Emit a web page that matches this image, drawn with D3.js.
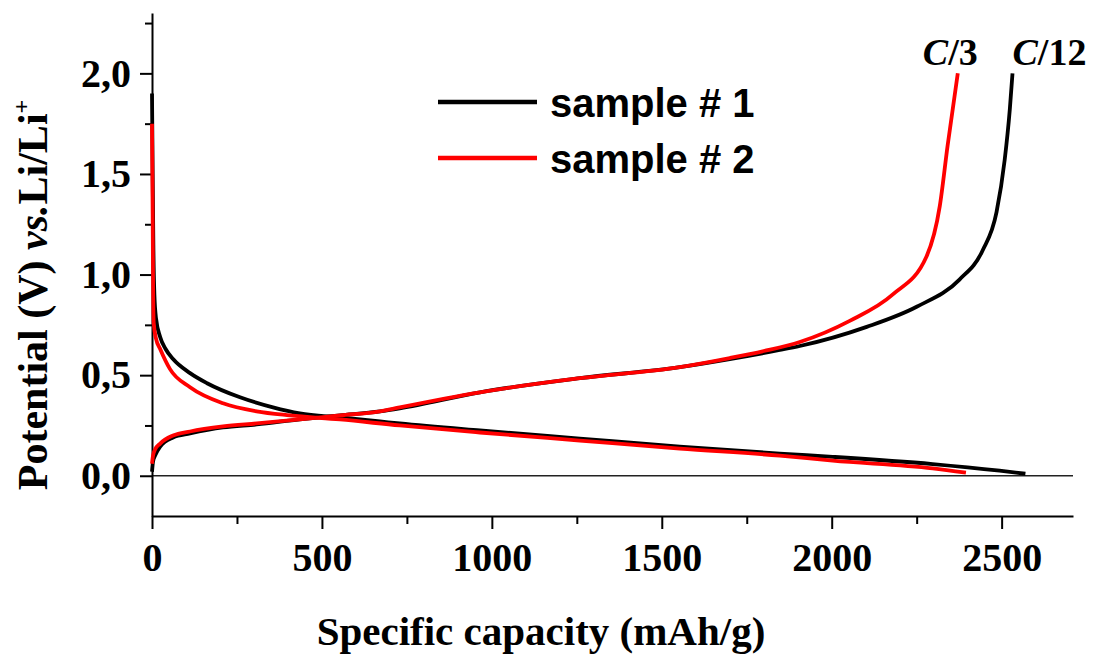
<!DOCTYPE html>
<html>
<head>
<meta charset="utf-8">
<script src="https://cdn.jsdelivr.net/npm/d3@7"></script>
<style>
  body { margin: 0; background: #fff; }
  svg { display: block; }
  .serif { font-family: "Liberation Serif", "Times New Roman", serif; font-weight: bold; }
</style>
</head>
<body>
<div id="chart"></div>
<script>
// Galvanostatic curves: [capacity mAh/g, potential V]
const sample1Discharge = [[0,1.90],[2,1.5],[4,1.15],[7,0.9],[12,0.78],[24,0.69],[40,0.63],[62,0.58],[112,0.51],[162,0.46],[259,0.39],[356,0.34],[435,0.31],[553,0.29],[671,0.27],[729,0.26],[965,0.225],[1259,0.185],[1553,0.145],[1847,0.11],[2003,0.094],[2297,0.058],[2494,0.025],[2570,0.01]];
const sample1Charge = [[0,0.02],[3,0.07],[9,0.10],[24,0.145],[62,0.19],[112,0.21],[209,0.24],[308,0.255],[435,0.28],[553,0.30],[671,0.32],[729,0.335],[965,0.415],[1259,0.485],[1553,0.54],[1700,0.58],[1847,0.625],[1906,0.645],[2103,0.74],[2250,0.84],[2376,0.975],[2444,1.12],[2485,1.31],[2509,1.57],[2524,1.82],[2532,2.0]];
const sample2Discharge = [[0,1.75],[2,1.3],[3,1.0],[5,0.76],[12,0.68],[24,0.63],[53,0.53],[112,0.44],[209,0.36],[308,0.32],[406,0.30],[553,0.28],[729,0.25],[965,0.215],[1259,0.175],[1553,0.135],[1847,0.10],[2003,0.075],[2297,0.037],[2395,0.015]];
const sample2Charge = [[0,0.06],[3,0.1],[9,0.13],[24,0.16],[62,0.2],[112,0.22],[209,0.245],[308,0.26],[435,0.28],[553,0.30],[671,0.32],[729,0.34],[965,0.415],[1259,0.485],[1553,0.54],[1700,0.585],[1800,0.62],[1906,0.665],[2053,0.77],[2179,0.9],[2279,1.09],[2318,1.34],[2341,1.64],[2371,2.0]];

const seriesNames = ['sample # 1', 'sample # 2'];
const seriesColors = ['#000000', '#ff0000'];
const rateLabels = [{ rate: '3', at: [2371, 2.0] }, { rate: '12', at: [2532, 2.0] }];

const xMajor = [0, 500, 1000, 1500, 2000, 2500];
const xMinor = [250, 750, 1250, 1750, 2250];
const yMajor = [0, 0.5, 1.0, 1.5, 2.0];
const yMinor = [0.25, 0.75, 1.25, 1.75, 2.25];

const W = 1096, H = 656;
const margin = { left: 152, right: 23, top: 13, bottom: 140 };

const svg = d3.select('#chart').append('svg')
    .attr('width', W)
    .attr('height', H);

const x = d3.scaleLinear().domain([0, 2710]).range([margin.left, W - margin.right]);
const y = d3.scaleLinear().domain([-0.2, 2.3]).range([H - margin.bottom, margin.top]);

const commaFmt = v => d3.format('.1f')(v).replace('.', ',');

// zero line
svg.append('line')
    .attr('x1', x(0)).attr('x2', x.range()[1])
    .attr('y1', y(0)).attr('y2', y(0))
    .attr('stroke', '#222').attr('stroke-width', 1.5);

// x axis
svg.append('g')
    .attr('transform', `translate(0,${y.range()[0]})`)
    .call(d3.axisBottom(x).tickValues(xMajor).tickSize(13).tickPadding(14).tickSizeOuter(0).tickFormat(d3.format('d')));
svg.append('g')
    .attr('transform', `translate(0,${y.range()[0]})`)
    .call(d3.axisBottom(x).tickValues(xMinor).tickSize(8).tickFormat('').tickSizeOuter(0))
    .select('.domain').remove();

// y axis
svg.append('g')
    .attr('transform', `translate(${x(0)},0)`)
    .call(d3.axisLeft(y).tickValues(yMajor).tickSize(12).tickPadding(9).tickSizeOuter(0).tickFormat(commaFmt));
svg.append('g')
    .attr('transform', `translate(${x(0)},0)`)
    .call(d3.axisLeft(y).tickValues(yMinor).tickSize(7).tickFormat('').tickSizeOuter(0))
    .select('.domain').remove();

svg.selectAll('.domain').attr('stroke-width', 2);
svg.selectAll('.tick line').attr('stroke-width', 2);
svg.selectAll('.tick text')
    .attr('class', 'serif')
    .style('font-size', '40px')
    .attr('fill', '#000');

// curves
const line = d3.line()
    .x(d => x(d[0]))
    .y(d => y(d[1]))
    .curve(d3.curveMonotoneX);

const curves = [
    { data: sample1Discharge, color: seriesColors[0] },
    { data: sample1Charge, color: seriesColors[0] },
    { data: sample2Discharge, color: seriesColors[1] },
    { data: sample2Charge, color: seriesColors[1] }
];

svg.append('g')
    .selectAll('path')
    .data(curves)
    .enter().append('path')
    .attr('d', d => line(d.data))
    .attr('fill', 'none')
    .attr('stroke', d => d.color)
    .attr('stroke-width', 3.8)
    .attr('stroke-linejoin', 'round');

// legend
const legend = svg.append('g').attr('transform', 'translate(438,102)');
seriesNames.forEach((name, i) => {
    const g = legend.append('g').attr('transform', `translate(0,${i * 56})`);
    g.append('line')
        .attr('x1', 0).attr('x2', 99)
        .attr('stroke', seriesColors[i]).attr('stroke-width', 4.5);
    g.append('text')
        .attr('x', 112).attr('y', 15)
        .style('font-family', '"Liberation Sans", Arial, sans-serif')
        .style('font-weight', 'bold')
        .style('font-size', '40px')
        .text(name);
});

// rate labels near curve ends
rateLabels.forEach(r => {
    const t = svg.append('text')
        .attr('class', 'serif')
        .attr('x', x(r.at[0]) + (r.rate === '3' ? -35 : 0))
        .attr('y', 65)
        .style('font-size', '38px');
    t.append('tspan').style('font-style', 'italic').text('C');
    t.append('tspan').text('/' + r.rate);
});

// axis titles
svg.append('text')
    .attr('class', 'serif')
    .attr('x', 541).attr('y', 645)
    .attr('text-anchor', 'middle')
    .style('font-size', '41px')
    .text('Specific capacity (mAh/g)');

const yt = svg.append('text')
    .attr('class', 'serif')
    .attr('transform', 'translate(47,295) rotate(-90)')
    .attr('text-anchor', 'middle')
    .style('font-size', '42px');
yt.append('tspan').text('Potential (V) ');
yt.append('tspan').style('font-style', 'italic').text('vs.');
yt.append('tspan').text('Li/Li');
yt.append('tspan').attr('dy', -18).style('font-size', '24px').text('+');
</script>
</body>
</html>
